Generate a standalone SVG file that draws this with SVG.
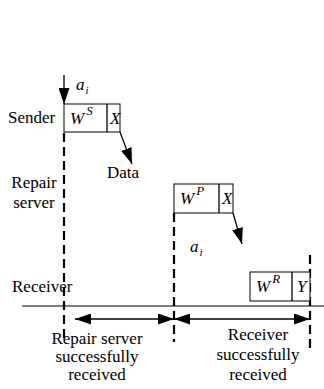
<svg xmlns="http://www.w3.org/2000/svg" width="324" height="389" viewBox="0 0 324 389">
<defs>
<marker id="ah" viewBox="0 0 16 11" refX="16" refY="5.5" markerWidth="16" markerHeight="11" markerUnits="userSpaceOnUse" orient="auto-start-reverse">
<path d="M0,0 L16,5.5 L0,11 Z" fill="#000"/>
</marker>
<style>
text{font-family:'Liberation Serif','Times New Roman',Times,serif;font-size:17px;fill:#000}
.it{font-style:italic}
.box{fill:#fff;stroke:#000;stroke-width:1}
.dash{stroke:#000;stroke-width:2.2;stroke-dasharray:9,5;fill:none}
.ln{stroke:#000;stroke-width:1.3;fill:none}
</style>
</defs>
<rect width="324" height="389" fill="#fff"/>
<g id="labels" font-family="Liberation Serif, serif">
<text x="8" y="123">Sender</text>
<text x="34" y="188" text-anchor="middle">Repair</text>
<text x="34" y="208" text-anchor="middle">server</text>
<text x="12" y="292">Receiver</text>
<text x="107" y="178">Data</text>
<text x="97" y="344" text-anchor="middle">Repair server</text>
<text x="97" y="362" text-anchor="middle">successfully</text>
<text x="97" y="380" text-anchor="middle">received</text>
<text x="258" y="340" text-anchor="middle">Receiver</text>
<text x="258" y="360" text-anchor="middle">successfully</text>
<text x="258" y="380" text-anchor="middle">received</text>
<text class="it" x="76" y="90" font-size="20">a<tspan font-size="11" dy="4" dx="1">i</tspan></text>
<text class="it" x="190" y="252" font-size="20">a<tspan font-size="11" dy="4" dx="1">i</tspan></text>
</g>
<g id="connectors">
<line class="dash" x1="64" y1="133" x2="64" y2="342"/>
<line class="dash" x1="174" y1="213" x2="174" y2="342"/>
<line class="dash" x1="310" y1="255" x2="310" y2="350"/>
<line x1="22" y1="306" x2="324" y2="306" stroke="#000" stroke-width="1.2"/>
<line class="ln" x1="64" y1="75" x2="64" y2="104" marker-end="url(#ah)"/>
<line class="ln" x1="120" y1="132" x2="132" y2="164" marker-end="url(#ah)"/>
<line class="ln" x1="233" y1="213" x2="242" y2="244" marker-end="url(#ah)"/>
<line class="ln" x1="75" y1="319" x2="174" y2="319" marker-start="url(#ah)" marker-end="url(#ah)"/>
<line class="ln" x1="174" y1="319" x2="310" y2="319" marker-start="url(#ah)" marker-end="url(#ah)"/>
</g>
<g id="sender-window" font-family="Liberation Serif, serif">
<rect class="box" x="64" y="104" width="56" height="28"/>
<line class="ln" x1="107" y1="104" x2="107" y2="132" stroke-width="1"/>
<text class="it" x="70" y="124" font-size="19">W<tspan font-size="13" dy="-9" dx="2">S</tspan></text>
<text class="it" x="110" y="124" font-size="15">X</text>
</g>
<g id="repair-window" font-family="Liberation Serif, serif">
<rect class="box" x="174" y="184" width="59" height="29"/>
<line class="ln" x1="219" y1="184" x2="219" y2="213" stroke-width="1"/>
<text class="it" x="180" y="204" font-size="19">W<tspan font-size="13" dy="-9" dx="2">P</tspan></text>
<text class="it" x="222" y="204" font-size="15">X</text>
</g>
<g id="receiver-window" font-family="Liberation Serif, serif">
<rect class="box" x="250" y="272" width="60" height="29"/>
<line class="ln" x1="292" y1="272" x2="292" y2="301" stroke-width="1"/>
<text class="it" x="256" y="292" font-size="19">W<tspan font-size="13" dy="-9" dx="2">R</tspan></text>
<text class="it" x="297" y="292" font-size="15">Y</text>
</g>
</svg>
